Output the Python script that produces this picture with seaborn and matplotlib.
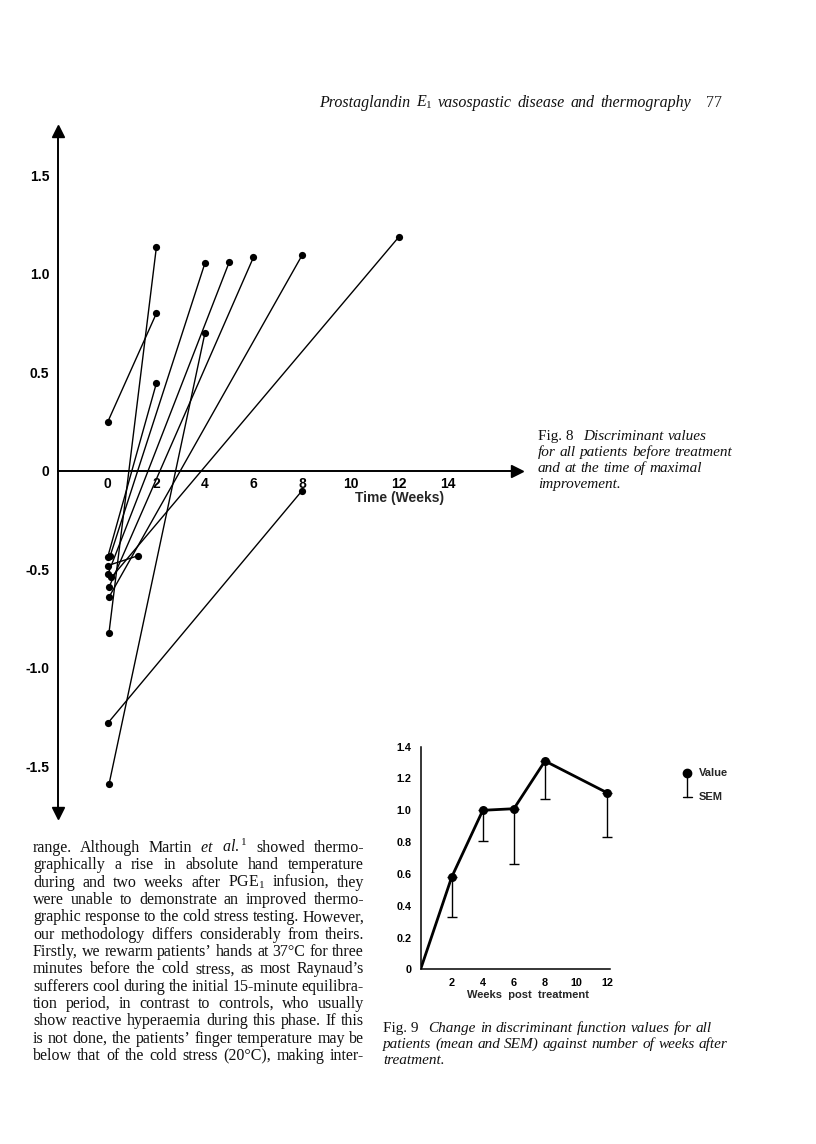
import numpy as np
import pandas as pd
import seaborn as sns
import matplotlib.pyplot as plt
from matplotlib import font_manager

# %%
# fig 8 - each patient before treatment and at time of maximal improvement
patient = list(range(1, 12))
week_before = [0.0, 0.0, 0.05, 0.05, 0.05, 0.15, 0.0, 0.0, 0.1, 0.0, 0.05]
value_before = [0.25, -1.28, -1.59, -0.82, -0.64, -0.54, -0.48, -0.435, -0.43, -0.525, -0.59]
week_best = [2, 8, 4, 2, 8, 12, 1.25, 2, 4, 5, 6]
value_best = [0.80, -0.10, 0.70, 1.135, 1.095, 1.19, -0.43, 0.445, 1.055, 1.06, 1.085]

x8_ticks = [0, 2, 4, 6, 8, 10, 12, 14]
y8_ticks = [1.5, 1.0, 0.5, 0, -0.5, -1.0, -1.5]
y8_labels = ["1.5", "1.0", "0.5", "0", "-0.5", "-1.0", "-1.5"]

# fig 9 - mean and SEM against weeks post treatment
weeks = [0, 2, 4, 6, 8, 12]
mean_val = [0, 0.58, 1.00, 1.01, 1.31, 1.11]
sem_val = [0.25, 0.19, 0.35, 0.24, 0.28]   # for weeks 2..12, drawn below only

x9_ticks = [2, 4, 6, 8, 10, 12]
y9_ticks = [0, 0.2, 0.4, 0.6, 0.8, 1.0, 1.2, 1.4]
y9_labels = ["0", "0.2", "0.4", "0.6", "0.8", "1.0", "1.2", "1.4"]

header = "Prostaglandin $E_1$ vasospastic disease and thermography"
page_no = "77"

body = [
    "range. Although Martin $\\mathit{et}$ $\\mathit{al.}^{1}$ showed thermo-",
    "graphically a rise in absolute hand temperature",
    "during and two weeks after PGE$_1$ infusion, they",
    "were unable to demonstrate an improved thermo-",
    "graphic response to the cold stress testing. However,",
    "our methodology differs considerably from theirs.",
    "Firstly, we rewarm patients\u2019 hands at 37\u00b0C for three",
    "minutes before the cold stress, as most Raynaud\u2019s",
    "sufferers cool during the initial 15-minute equilibra-",
    "tion period, in contrast to controls, who usually",
    "show reactive hyperaemia during this phase. If this",
    "is not done, the patients\u2019 finger temperature may be",
    "below that of the cold stress (20\u00b0C), making inter-",
]
cap8 = ["Discriminant values", "for all patients before treatment",
        "and at the time of maximal", "improvement."]
cap9 = ["Change in discriminant function values for all",
        "patients (mean and SEM) against number of weeks after",
        "treatment."]

# %%
sns.set_theme(style="white")
names = {f.name for f in font_manager.fontManager.ttflist}
COND = "Liberation Sans Narrow" if "Liberation Sans Narrow" in names else "Liberation Sans"
SERIF = "Liberation Serif"
plt.rcParams["font.family"] = [SERIF, "DejaVu Serif"]
plt.rcParams["mathtext.fontset"] = "custom"
plt.rcParams["mathtext.rm"] = SERIF
plt.rcParams["mathtext.it"] = SERIF + ":italic"

W, H = 816, 1144
fig = plt.figure(figsize=(W / 100, H / 100), dpi=100)
fig.patch.set_facecolor("white")
renderer = fig.canvas.get_renderer()


def rect(l, t, r, b):
    return [l / W, 1 - b / H, (r - l) / W, (b - t) / H]


# %%
# fig 8
df8 = pd.DataFrame({
    "patient": patient * 2,
    "week": week_before + week_best,
    "value": value_before + value_best,
})
x0_px, wk_px, y0_px, unit_px = 107.8, 24.28, 471, 197
l8, t8, r8, b8 = 57.5, 131, 517, 813
ax8 = fig.add_axes(rect(l8, t8, r8, b8))
sns.lineplot(data=df8, x="week", y="value", units="patient", estimator=None,
             sort=False, color="black", linewidth=1.0, marker="o", markersize=5.2,
             markeredgewidth=0, ax=ax8, legend=False)
ax8.set_xlim((l8 - x0_px) / wk_px, (r8 - x0_px) / wk_px)
ax8.set_ylim((y0_px - b8) / unit_px, (y0_px - t8) / unit_px)
ax8.spines["bottom"].set_position(("data", 0))
ax8.spines[["top", "right"]].set_visible(False)
for s in ["left", "bottom"]:
    ax8.spines[s].set_linewidth(1.4)
    ax8.spines[s].set_color("black")
ax8.set_xticks(x8_ticks)
ax8.set_yticks(y8_ticks)
ax8.set_yticklabels(y8_labels)
ax8.tick_params(axis="x", direction="in", length=4, width=1.1, pad=4, colors="black")
ax8.tick_params(axis="y", direction="out", length=3, width=1.1, pad=3, colors="black")
for lab in ax8.get_xticklabels() + ax8.get_yticklabels():
    lab.set_fontfamily(COND)
    lab.set_fontweight("bold")
    lab.set_fontsize(10)
ax8.set_xlabel("")
ax8.set_ylabel("")
ax8.text(12, -0.135, "Time (Weeks)", ha="center", va="center",
         family=COND, fontweight="bold", fontsize=10)
# arrow heads on both axes
ax8.plot([1], [0], marker=">", ms=8, color="black", transform=ax8.get_yaxis_transform(), clip_on=False)
ax8.plot([0], [1], marker="^", ms=8, color="black", transform=ax8.transAxes, clip_on=False)
ax8.plot([0], [0], marker="v", ms=8, color="black", transform=ax8.transAxes, clip_on=False)

# %%
# fig 9
ax9 = fig.add_axes(rect(420.6, 746.7, 610.3, 969.3))
sns.lineplot(x=weeks, y=mean_val, color="black", linewidth=2, ax=ax9)
sns.scatterplot(x=weeks[1:], y=mean_val[1:], color="black", s=42, edgecolor="black",
                linewidth=0, ax=ax9, zorder=4, clip_on=False)
ax9.errorbar(weeks[1:], mean_val[1:], yerr=[sem_val, [0] * len(sem_val)], fmt="none",
             ecolor="black", elinewidth=1, capsize=3.3, capthick=1, clip_on=False)
ax9.set_xlim(0, 12.2)
ax9.set_ylim(0, 1.4)
ax9.spines[["top", "right"]].set_visible(False)
for s in ["left", "bottom"]:
    ax9.spines[s].set_linewidth(1.1)
    ax9.spines[s].set_color("black")
ax9.set_xticks(x9_ticks)
ax9.set_yticks(y9_ticks)
ax9.set_yticklabels(y9_labels)
ax9.tick_params(axis="both", direction="out", length=3, width=1, pad=3.5, colors="black")
for lab in ax9.get_xticklabels() + ax9.get_yticklabels():
    lab.set_fontfamily(COND)
    lab.set_fontweight("bold")
    lab.set_fontsize(7.8)
ax9.set_xlabel("Weeks  post  treatment", family=COND,
               fontweight="bold", fontsize=8, labelpad=1)
ax9.xaxis.label.set_x(0.566)
ax9.set_ylabel("")

# legend key
lx, ly = (687.3 - 420.6) / (610.3 - 420.6), (969.3 - 773.3) / (969.3 - 746.7)
ly2 = (969.3 - 797.3) / (969.3 - 746.7)
ax9.plot([lx, lx], [ly, ly2], color="black", lw=1, transform=ax9.transAxes, clip_on=False)
ax9.plot([lx - 0.025, lx + 0.025], [ly2, ly2], color="black", lw=1, transform=ax9.transAxes, clip_on=False)
ax9.plot([lx], [ly], "o", ms=6, color="black", transform=ax9.transAxes, clip_on=False)
ax9.text(lx + 0.06, ly, "Value", transform=ax9.transAxes, va="center", ha="left",
         family=COND, fontweight="bold", fontsize=8)
ax9.text(lx + 0.06, ly2, "SEM", transform=ax9.transAxes, va="center", ha="left",
         family=COND, fontweight="bold", fontsize=8)


# %%
# page text
def put_words(words, x0, x1, y, size, style="normal", justify=True):
    texts = [fig.text(0, 0, w, fontsize=size, style=style, family=SERIF, va="baseline",
                      color="#111111") for w in words]
    widths = [t.get_window_extent(renderer).width for t in texts]
    if justify and len(words) > 1:
        gap = (x1 - x0 - sum(widths)) / (len(words) - 1)
    else:
        gap = size * 100 / 72 * 0.26
    x = x0
    for t, w in zip(texts, widths):
        t.set_position((x / W, 1 - y / H))
        x += w + gap
    return x


put_words(header.split(" "), 319, 691, 107, 11.5, style="italic")
fig.text(722 / W, 1 - 107 / H, page_no, ha="right", va="baseline", fontsize=11.5, family=SERIF)

for i, line in enumerate(body):
    put_words(line.split(" "), 33, 364, 852 + i * 17.33, 11.5)

# captions
for i, line in enumerate(cap8):
    y = 440 + i * 16
    x = 538
    if i == 0:
        x = put_words(["Fig. 8"], x, x, y, 11, justify=False) + 6
    put_words(line.split(" "), x, x, y, 11, style="italic", justify=False)

for i, line in enumerate(cap9):
    y = 1032 + i * 16
    x = 383
    if i == 0:
        x = put_words(["Fig. 9"], x, x, y, 11, justify=False) + 6
    put_words(line.split(" "), x, x, y, 11, style="italic", justify=False)

fig.savefig("out.png", dpi=100, facecolor="white")
